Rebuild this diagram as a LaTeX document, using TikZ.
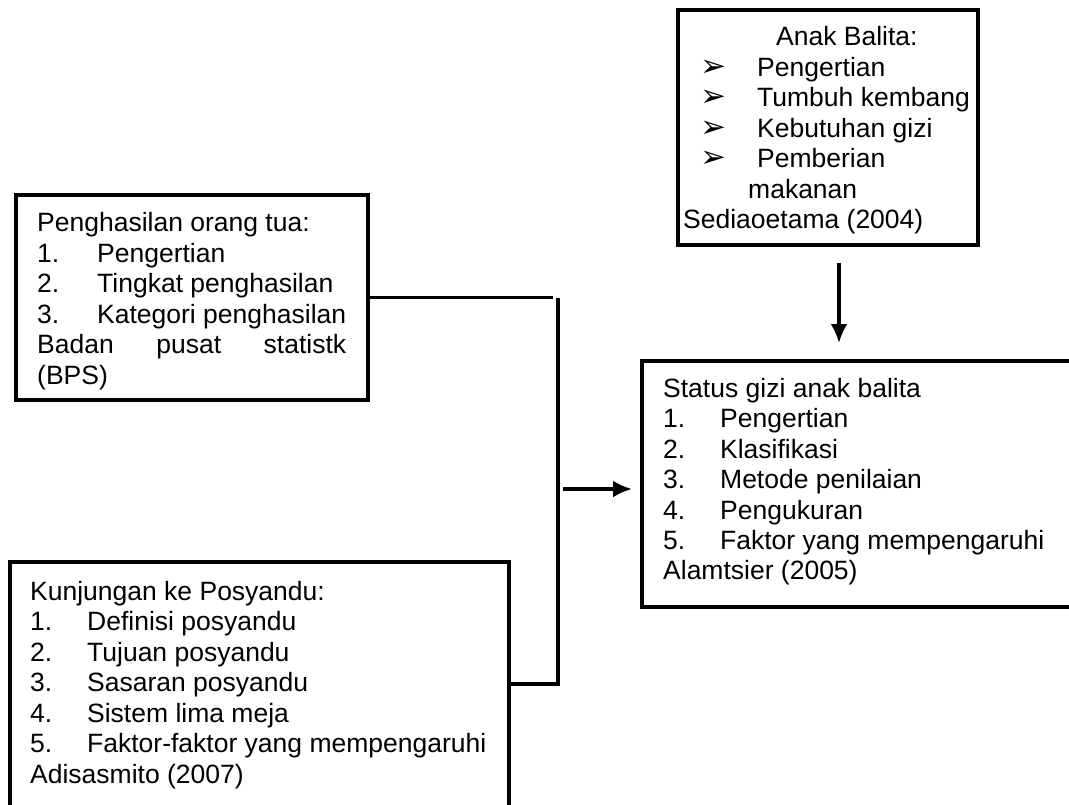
\documentclass[tikz,border=0pt]{standalone}
\usepackage{fontspec}
\setmainfont{Liberation Sans}
\newfontfamily\symfont{DejaVu Sans}
\usetikzlibrary{arrows.meta}

\newcommand{\itm}[3]{\makebox[#1][l]{#2}#3}
\newcommand{\bul}{{\symfont\fontsize{31}{31}\selectfont ➢}}

\begin{document}
\begin{tikzpicture}[x = 1pt, y = -1pt, > = {Latex[length = 19pt, width = 17pt]},
	box/.style = {draw, line width = 3.8pt, inner sep = 0pt, outer sep = 0pt, anchor = north west},
	txt/.style = {inner sep = 0pt, anchor = base west, font = \fontsize{26.5}{30.5}\selectfont},
	link/.style = {line width = 3.4pt}]

	% Frame
	
	\useasboundingbox (0, 0) rectangle (1069, 805);
	\clip (0, 0) rectangle (1069, 805);
	
	% Boxes
	
	\node [box, minimum width = 352pt, minimum height = 205pt] (income) at (16, 195) {};
	\node [box, minimum width = 499pt, minimum height = 300pt] (visit) at (10, 562) {};
	\node [box, minimum width = 300pt, minimum height = 235pt] (child) at (678, 10) {};
	\node [box, minimum width = 500pt, minimum height = 246pt] (status) at (642, 361) {};
	
	% Box texts
	
	\node [txt] (incometext) at (37, 232) {\begin{tabular}[t]{@{}l@{}}
		Penghasilan orang tua:\\
		\itm{60pt}{1.}{Pengertian}\\
		\itm{60pt}{2.}{Tingkat penghasilan}\\
		\itm{60pt}{3.}{Kategori penghasilan}\\
		\makebox[309pt][s]{Badan\hfill pusat\hfill statistk}\\
		(BPS)
	\end{tabular}};
	
	\node [txt] (visittext) at (30, 600) {\begin{tabular}[t]{@{}l@{}}
		Kunjungan ke Posyandu:\\
		\itm{57pt}{1.}{Definisi posyandu}\\
		\itm{57pt}{2.}{Tujuan posyandu}\\
		\itm{57pt}{3.}{Sasaran posyandu}\\
		\itm{57pt}{4.}{Sistem lima meja}\\
		\itm{57pt}{5.}{Faktor-faktor yang mempengaruhi}\\
		Adisasmito (2007)
	\end{tabular}};
	
	\node [txt] (childtext) at (683, 46) {\begin{tabular}[t]{@{}l@{}}
		\hspace*{93pt}Anak Balita:\\
		\hspace*{17pt}\itm{57pt}{\bul}{Pengertian}\\
		\hspace*{17pt}\itm{57pt}{\bul}{Tumbuh kembang}\\
		\hspace*{17pt}\itm{57pt}{\bul}{Kebutuhan gizi}\\
		\hspace*{17pt}\itm{57pt}{\bul}{Pemberian}\\
		\hspace*{65pt}makanan\\
		Sediaoetama (2004)
	\end{tabular}};
	
	\node [txt] (statustext) at (663, 397) {\begin{tabular}[t]{@{}l@{}}
		Status gizi anak balita\\
		\itm{57pt}{1.}{Pengertian}\\
		\itm{57pt}{2.}{Klasifikasi}\\
		\itm{57pt}{3.}{Metode penilaian}\\
		\itm{57pt}{4.}{Pengukuran}\\
		\itm{57pt}{5.}{Faktor yang mempengaruhi}\\
		Alamtsier (2005)
	\end{tabular}};
	
	% Joining lines
	
	\coordinate (jtop) at (558, 298);
	\coordinate (jmid) at (558, 489);
	\coordinate (jbot) at (558, 684);
	\coordinate (drop) at (839, 263);
	
	\draw [link] (income.east) -- ([xshift = -5pt] income.east -| jtop);
	\draw [link] (jtop) -- (jbot) -- (jbot -| visit.east);
	
	% Arrows
	
	\draw [link, ->] ([xshift = 5pt] jmid) -- ([xshift = -10pt] jmid -| status.west);
	\draw [link, ->] (drop) -- ([yshift = 18pt] drop |- status.north);

\end{tikzpicture}
\end{document}
